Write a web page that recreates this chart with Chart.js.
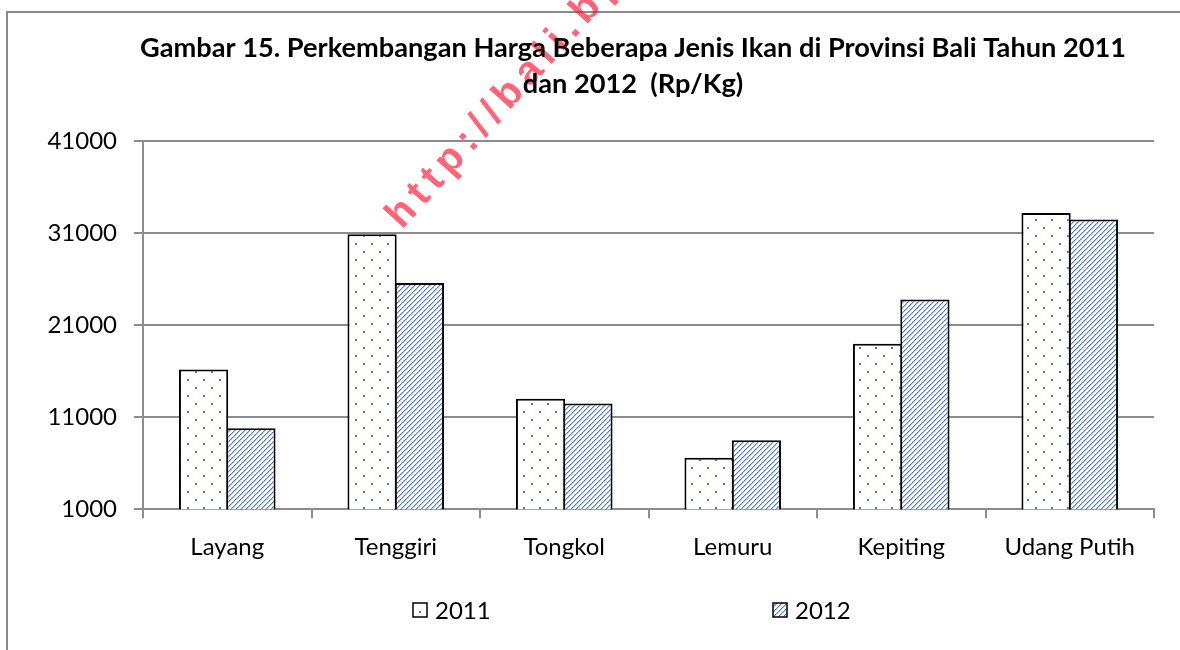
<!DOCTYPE html>
<html><head><meta charset="utf-8">
<script src="https://cdn.jsdelivr.net/npm/chart.js@4/dist/chart.umd.min.js"></script>
<style>
html,body{margin:0;padding:0;background:#fff;overflow:hidden;width:1180px;height:650px;}
#frame{position:absolute;left:6px;top:11px;width:1300px;height:700px;border:2px solid #8a8a8a;box-sizing:border-box;}
#c{position:absolute;left:0;top:0;}
</style></head><body>
<div id="frame"></div>
<canvas id="c" width="1266" height="650"></canvas>
<script>
const categories = ['Layang', 'Tenggiri', 'Tongkol', 'Lemuru', 'Kepiting', 'Udang Putih'];
const values2011 = [16200, 30900, 13000, 6600, 19000, 33200];
const values2012 = [9800, 25600, 12500, 8500, 23800, 32500];
const seriesLabels = ['2011', '2012'];
const yTicks = [1000, 11000, 21000, 31000, 41000];
const titleLines = ['Gambar 15. Perkembangan Harga Beberapa Jenis Ikan di Provinsi Bali Tahun 2011', 'dan 2012  (Rp/Kg)'];
const watermarkText = 'http://bali.bps.go.id';

const BLUE = '#4472C4';
const canvas = document.getElementById('c');
const ctx0 = canvas.getContext('2d');

function makeDots() {
  const t = document.createElement('canvas'); t.width = 16; t.height = 16;
  const g = t.getContext('2d');
  g.fillStyle = '#fff'; g.fillRect(0, 0, 16, 16);
  g.fillStyle = BLUE; g.fillRect(3, 3, 2, 2); g.fillRect(11, 11, 2, 2);
  return ctx0.createPattern(t, 'repeat');
}
function makeHatch() {
  const n = 5;
  const t = document.createElement('canvas'); t.width = n; t.height = n;
  const g = t.getContext('2d');
  g.fillStyle = '#fff'; g.fillRect(0, 0, n, n);
  for (let i = 0; i < n; i++) {
    g.fillStyle = (i % 2 === 0) ? BLUE : '#5b86cf'; g.fillRect(n - 1 - i, i, 1, 1);
    g.fillStyle = '#b3c7ea'; g.fillRect((2 * n - i) % n, i, 1, 1);
  }
  return ctx0.createPattern(t, 'repeat');
}
const dotPat = makeDots();
const hatchPat = makeHatch();

const watermarkPlugin = {
  id: 'watermark',
  beforeDraw(chart) {
    const ctx = chart.ctx;
    ctx.save();
    ctx.translate(402, 230);
    ctx.rotate(-48 * Math.PI / 180);
    ctx.font = 'bold 40px "Liberation Sans"';
    ctx.letterSpacing = '7px';
    ctx.fillStyle = 'rgba(255,20,50,0.66)';
    ctx.strokeStyle = 'rgba(255,20,50,0.66)';
    ctx.lineWidth = 2;
    ctx.lineJoin = 'round';
    ctx.textBaseline = 'alphabetic';
    ctx.fillText(watermarkText, 0, 0);
    ctx.restore();
  }
};

const legendPlugin = {
  id: 'patternLegend',
  afterDraw(chart) {
    const ctx = chart.ctx;
    const cx = chart.width / 2;
    const y = 610;
    const offs = [-220, 140];
    chart.data.datasets.forEach((ds, i) => {
      const x = Math.round(cx + offs[i]);
      ctx.save();
      ctx.fillStyle = ds.backgroundColor;
      ctx.fillRect(x, y - 7, 14, 14);
      ctx.lineWidth = 1.5;
      ctx.strokeStyle = '#000';
      ctx.strokeRect(x, y - 7, 14, 14);
      ctx.fillStyle = '#000';
      ctx.font = '24px Lato';
      ctx.textBaseline = 'middle';
      ctx.fillText(ds.label, x + 22, y + 1);
      ctx.restore();
    });
  }
};

const GRID = '#8c8c8c';

new Chart(canvas, {
  type: 'bar',
  data: {
    labels: categories,
    datasets: [
      { label: seriesLabels[0], data: values2011, backgroundColor: dotPat, borderColor: '#000', borderWidth: 2 },
      { label: seriesLabels[1], data: values2012, backgroundColor: hatchPat, borderColor: '#000', borderWidth: 2 }
    ]
  },
  options: {
    responsive: false,
    animation: false,
    events: [],
    categoryPercentage: 0.562,
    barPercentage: 1.04,
    layout: { padding: { left: 0, right: 0, top: 0, bottom: 73 } },
    plugins: {
      legend: { display: false },
      tooltip: { enabled: false },
      title: {
        display: true,
        text: titleLines,
        color: '#000',
        font: { family: 'Lato', weight: 'bold', size: 27.2, lineHeight: 1.33 },
        padding: { top: 30, bottom: 39 }
      }
    },
    scales: {
      x: {
        offset: true,
        grid: { drawOnChartArea: false, drawTicks: true, tickLength: 9, color: GRID, lineWidth: 2 },
        border: { display: true, color: GRID, width: 2 },
        ticks: { color: '#000', font: { family: 'Lato', size: 24 }, padding: 15, maxRotation: 0 }
      },
      y: {
        min: 1000,
        max: 41000,
        afterBuildTicks: (scale) => { scale.ticks = yTicks.map(v => ({ value: v })); },
        afterFit: (scale) => { scale.width = 143; },
        grid: { color: GRID, lineWidth: 2, tickLength: 9, drawTicks: true },
        border: { display: true, color: GRID, width: 2 },
        ticks: { color: '#000', font: { family: 'Lato', size: 24 }, padding: 17, callback: (v) => String(v) }
      },
      yRightSpace: {
        position: 'right',
        display: true,
        grid: { display: false, drawTicks: false },
        border: { display: false },
        ticks: { display: false },
        afterFit: (scale) => { scale.width = 112; }
      }
    }
  },
  plugins: [watermarkPlugin, legendPlugin]
});
</script>
</body></html>
